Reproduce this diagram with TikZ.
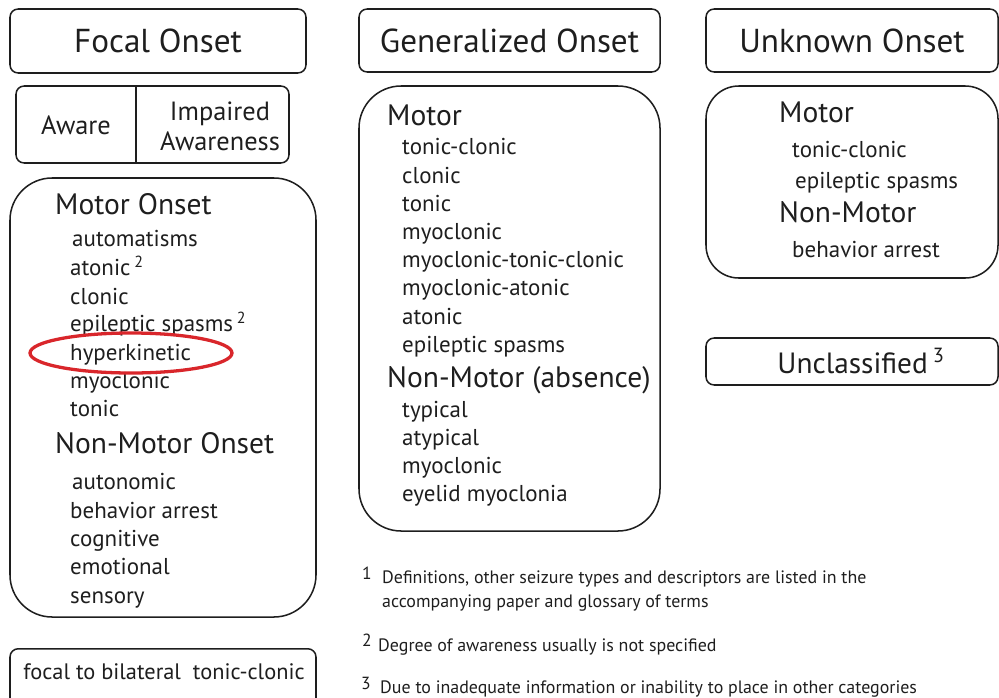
\documentclass[tikz,border=0pt]{standalone}
\usepackage{fontspec}
\setmainfont{PT Sans}
\definecolor{ink}{HTML}{1E1E1E}
\definecolor{ringred}{HTML}{D9262B}

\begin{document}
\begin{tikzpicture}[x=0.03cm, y=-0.03cm,
  box/.style = {draw=ink, line width=1.3pt, rounded corners=7pt, inner sep=0pt},
  panel/.style = {draw=ink, line width=1.3pt, rounded corners=36pt, inner sep=0pt},
  head/.style = {text=ink, font=\fontsize{28.3}{32}\selectfont},
  group/.style = {anchor=west, text=ink, font=\fontsize{25.2}{28}\selectfont, inner sep=0pt, text height=17pt, text depth=5pt, yshift=-2.6pt},
  item/.style = {anchor=west, text=ink, font=\fontsize{19.6}{22}\selectfont, inner sep=0pt, text height=14pt, text depth=4pt, yshift=-2.6pt},
  note/.style = {anchor=west, text=ink, font=\fontsize{15.3}{20}\selectfont, inner sep=0pt, align=left},
  fnum/.style = {anchor=west, text=ink, font=\fontsize{15}{16}\selectfont, inner sep=0pt}]
\useasboundingbox (0,0) rectangle (999,698);

% focal onset column
\node[box, head, minimum width=8.88cm, minimum height=1.92cm] (focal) at (158,41) {Focal Onset};
\node[box, minimum width=8.19cm, minimum height=2.31cm] (aware) at (152.5,124.5) {};
\coordinate (divtop) at (136,86);
\coordinate (divbot) at (136,163);
\draw[ink, line width=1.3pt] (divtop) -- (divbot);
\node[text=ink, font=\fontsize{22.5}{26}\selectfont] (aw) at (76,125) {Aware};
\node[text=ink, align=center, font=\fontsize{22.5}{25.6}\selectfont] (imp) at (220,126) {Impaired\\Awareness};
\node[panel, minimum width=9.18cm, minimum height=13.17cm] (fpanel) at (163,397.5) {};
\node[group] (fmotor) at (55,204) {Motor Onset};
\node[item] (f1) at (72,238) {automatisms};
\node[item] (f2) at (70,267) {atonic\,\textsuperscript{2}};
\node[item] (f3) at (70,296) {clonic};
\node[item] (f4) at (70,323) {epileptic spasms\,\textsuperscript{2}};
\node[item] (f5) at (70,352) {hyperkinetic};
\node[item] (f6) at (70,380) {myoclonic};
\node[item] (f7) at (70,408) {tonic};
\node[group] (fnon) at (55,443) {Non-Motor Onset};
\node[item] (f8) at (72,481) {autonomic};
\node[item] (f9) at (70,510) {behavior arrest};
\node[item] (f10) at (70,538) {cognitive};
\node[item] (f11) at (70,566) {emotional};
\node[item] (f12) at (70,595) {sensory};
\draw[ringred, line width=2.8pt] (131,353) ellipse (101 and 20);
\node[box, minimum width=9.18cm, minimum height=1.92cm, anchor=north] (bil) at (163,648) {};
\node[item, anchor=center, font=\fontsize{19.1}{22}\selectfont] (biltxt) at (164,671) {focal to bilateral\ \ tonic-clonic};

% generalized onset column
\node[box, head, minimum width=9.03cm, minimum height=1.89cm] (gen) at (509.5,40.5) {Generalized Onset};
\node[panel, minimum width=9.03cm, minimum height=13.35cm] (gpanel) at (509.5,308.5) {};
\node[group] (gmotor) at (387,115) {Motor};
\node[item] (g1) at (402,146) {tonic-clonic};
\node[item] (g2) at (402,175) {clonic};
\node[item] (g3) at (402,203) {tonic};
\node[item] (g4) at (402,231) {myoclonic};
\node[item] (g5) at (402,259) {myoclonic-tonic-clonic};
\node[item] (g6) at (402,287) {myoclonic-atonic};
\node[item] (g7) at (402,316) {atonic};
\node[item] (g8) at (402,344) {epileptic spasms};
\node[group] (gnon) at (387,377) {Non-Motor (absence)};
\node[item] (g9) at (402,409) {typical};
\node[item] (g10) at (402,437) {atypical};
\node[item] (g11) at (402,465) {myoclonic};
\node[item] (g12) at (402,493) {eyelid myoclonia};

% unknown onset column
\node[box, head, minimum width=8.76cm, minimum height=1.89cm] (unk) at (852,40.5) {Unknown Onset};
\node[panel, rounded corners=28pt, minimum width=8.76cm, minimum height=5.76cm] (upanel) at (852,182) {};
\node[group] (umotor) at (779,112) {Motor};
\node[item] (u1) at (792,149) {tonic-clonic};
\node[item] (u2) at (795,180) {epileptic spasms};
\node[group] (unon) at (779,212) {Non-Motor};
\node[item] (u3) at (792,249) {behavior arrest};
\node[box, minimum width=8.76cm, minimum height=1.41cm] (uncl) at (852,361.5) {};
\node[text=ink, font=\fontsize{25}{28}\selectfont] (uncltxt) at (861,361) {Unclassified\,\textsuperscript{3}};

% footnotes
\node[fnum] (n1) at (362,573) {1};
\node[note] (t1) at (382,591) {Definitions, other seizure types and descriptors are listed in the\\accompanying paper and glossary of terms};
\node[fnum] (n2) at (362,640) {2};
\node[note] (t2) at (378,647) {Degree of awareness usually is not specified};
\node[fnum] (n3) at (361,683) {3};
\node[note] (t3) at (380,689) {Due to inadequate information or inability to place in other\ categories};
\end{tikzpicture}
\end{document}
